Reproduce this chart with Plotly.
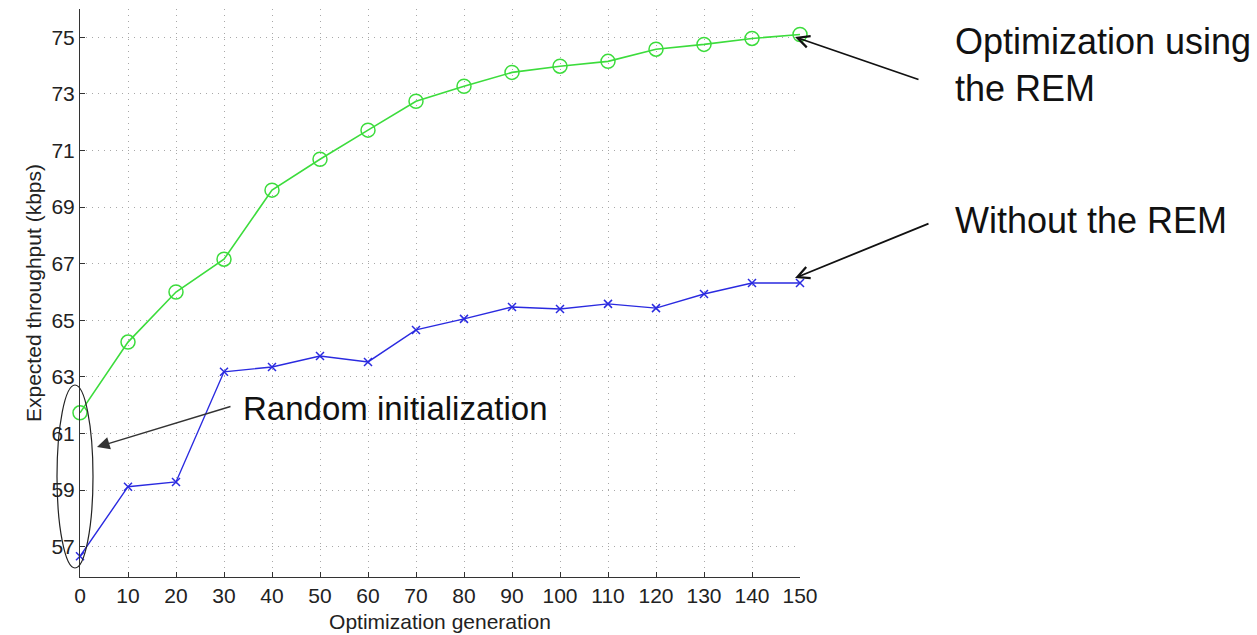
import plotly.graph_objects as go

# Optimization generations sampled every 10 steps
generations = [0, 10, 20, 30, 40, 50, 60, 70, 80, 90, 100, 110, 120, 130, 140, 150]

# Expected throughput (kbps) per generation
with_rem = [61.73, 64.23, 66.0, 67.16, 69.6, 70.69, 71.72, 72.74, 73.27, 73.76,
            73.98, 74.15, 74.58, 74.75, 74.96, 75.1]
without_rem = [56.66, 59.12, 59.29, 63.18, 63.35, 63.74, 63.53, 64.66, 65.05, 65.47,
               65.4, 65.58, 65.43, 65.93, 66.32, 66.32]

x_ticks = list(range(0, 151, 10))
y_ticks = list(range(57, 76, 2))

FONT = "Liberation Sans, Arial, sans-serif"
W, H = 1257, 635
L, R, T, B = 80, 457, 9, 58
PW, PH = W - L - R, H - T - B


def px_to_paper(px, py):
    return (px - L) / PW, (H - B - py) / PH


fig = go.Figure()

fig.add_trace(go.Scatter(
    x=generations, y=with_rem, mode="lines+markers", name="with REM",
    line=dict(color="#3cdc3c", width=1.6),
    marker=dict(symbol="circle-open", size=14, color="#3cdc3c", line=dict(width=1.5)),
    cliponaxis=False,
))
fig.add_trace(go.Scatter(
    x=generations, y=without_rem, mode="lines+markers", name="without REM",
    line=dict(color="#2a2ae0", width=1.4),
    marker=dict(symbol="x-thin-open", size=8, color="#2a2ae0", line=dict(width=1.5, color="#2a2ae0")),
    cliponaxis=False,
))

axis_common = dict(
    showline=True, linecolor="#333333", linewidth=1,
    ticks="inside", ticklen=5, tickcolor="#333333",
    showgrid=True, gridcolor="#a8a8a8", griddash="1px,5px", gridwidth=1,
    zeroline=False, mirror=False, automargin=False,
    tickfont=dict(family=FONT, size=21, color="#222222"),
)

fig.update_xaxes(
    range=[0, 150], tickvals=x_ticks,
    title=dict(text="Optimization generation", font=dict(family=FONT, size=21, color="#222222"), standoff=8),
    **axis_common,
)
fig.update_yaxes(
    range=[55.93, 76.0], tickvals=y_ticks,
    title=dict(text="Expected throughput (kbps)", font=dict(family=FONT, size=21, color="#222222"), standoff=4),
    **axis_common,
)

# Ellipse marking the random starting points
ex0, ey0 = px_to_paper(57, 568)
ex1, ey1 = px_to_paper(93, 385)
fig.add_shape(type="circle", xref="paper", yref="paper",
              x0=ex0, x1=ex1, y0=ey0, y1=ey1,
              line=dict(color="#222222", width=1.2))

# Arrow annotations (head at pixel position, tail offset in pixels)
arrows = [
    ((795, 37), (920, 80), 5, 1.8, "#111111", 1.3),
    ((795, 278), (930, 223), 5, 1.8, "#111111", 1.3),
    ((97, 447), (232, 406), 2, 1.4, "#333333", 1.8),
]
for (hx, hy), (tx, ty), head, width, color, size in arrows:
    ax_p, ay_p = px_to_paper(hx, hy)
    fig.add_annotation(
        x=ax_p, y=ay_p, xref="paper", yref="paper", text="",
        showarrow=True, arrowhead=head, arrowwidth=width, arrowcolor=color,
        arrowsize=size, ax=tx - hx, ay=ty - hy,
    )

labels = [
    ("Optimization using<br>the REM", 953, 65, 36),
    ("Without the REM", 953, 220, 36),
    ("Random initialization", 241, 408, 33),
]
for text, lx, ly, fs in labels:
    px_, py_ = px_to_paper(lx, ly)
    fig.add_annotation(
        x=px_, y=py_, xref="paper", yref="paper", text=text,
        showarrow=False, xanchor="left", yanchor="middle", align="left",
        font=dict(family=FONT, size=fs, color="#111111"),
    )

fig.update_layout(
    width=W, height=H,
    margin=dict(l=L, r=R, t=T, b=B),
    paper_bgcolor="white", plot_bgcolor="white",
    showlegend=False,
)

fig.write_html("out.html")
